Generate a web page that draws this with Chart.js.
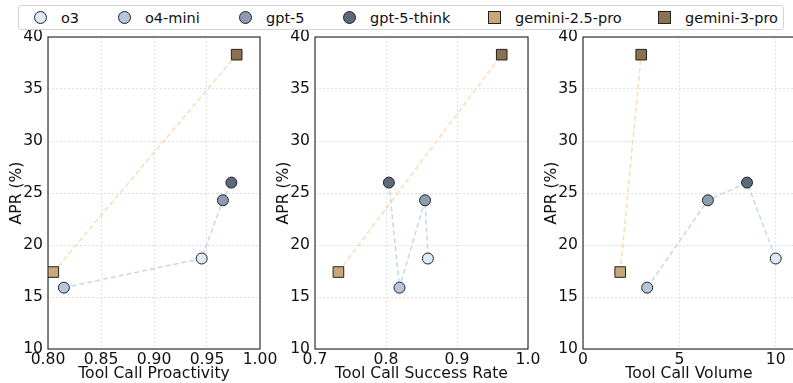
<!DOCTYPE html>
<html>
<head>
<meta charset="utf-8">
<script src="https://cdn.jsdelivr.net/npm/chart.js@4.4.0/dist/chart.umd.min.js"></script>
<style>
  body { margin: 0; width: 793px; height: 383px; overflow: hidden; background: #fff; position: relative; font-family: "DejaVu Sans", sans-serif; }
  canvas { position: absolute; top: 0; }
  #legend { position: absolute; left: 18px; top: 5px; width: 764px; height: 23px; border: 1px solid #d4d4d4; border-radius: 3px; background: #fff; z-index: 5; }
  .item { position: absolute; top: 0; height: 23px; display: flex; align-items: center; font-size: 14.5px; color: #111; }
  .mk { width: 11px; height: 11px; border: 1px solid #222; margin-right: 14px; box-sizing: content-box; }
  .mk.circle { border-radius: 50%; }
</style>
</head>
<body>
<div id="legend"></div>
<canvas id="c0" width="280" height="383" style="left:0px"></canvas>
<canvas id="c1" width="280" height="383" style="left:267px"></canvas>
<canvas id="c2" width="270" height="383" style="left:535px"></canvas>
<script>
// models and measured values
const models = ['o3', 'o4-mini', 'gpt-5', 'gpt-5-think', 'gemini-2.5-pro', 'gemini-3-pro'];
const apr = [18.7, 15.9, 24.3, 26.0, 17.4, 38.3];
const proactivity = [0.945, 0.815, 0.965, 0.973, 0.805, 0.978];
const successRate = [0.859, 0.819, 0.855, 0.804, 0.733, 0.963];
const callVolume = [10.0, 3.33, 6.48, 8.51, 1.93, 3.02];

const openaiGroup = [0, 1, 2, 3];
const geminiGroup = [4, 5];

const fillColors = ['#dbe9f8', '#b3c6dc', '#8d9db1', '#5c6979', '#c8a87b', '#8c7150'];
const markerShapes = ['circle', 'circle', 'circle', 'circle', 'rect', 'rect'];

// legend (html)
const legendX = [33, 117, 238, 342, 487, 657];
const legend = document.getElementById('legend');
models.forEach((m, i) => {
    const it = document.createElement('div');
    it.className = 'item';
    it.style.left = (legendX[i] - 18) + 'px';
    const mk = document.createElement('span');
    mk.className = 'mk ' + markerShapes[i];
    mk.style.background = fillColors[i];
    it.appendChild(mk);
    it.appendChild(document.createTextNode(m));
    legend.appendChild(it);
});

const framePlugin = {
    id: 'frame',
    beforeDatasetsDraw(chart) {
        const a = chart.chartArea;
        const ctx = chart.ctx;
        ctx.save();
        ctx.strokeStyle = '#333';
        ctx.lineWidth = 1.2;
        ctx.strokeRect(a.left, a.top, a.right - a.left, a.bottom - a.top);
        ctx.restore();
    }
};

const font = { family: 'DejaVu Sans', size: 15.6 };

function makePanel(id, xs, xOpts, title, rightPad) {
    const datasets = [];
    // connecting dashed lines
    [[openaiGroup, 'rgba(175,198,226,0.7)'], [geminiGroup, 'rgba(250,205,150,0.7)']].forEach(([grp, col]) => {
        const pts = grp.map(i => ({ x: xs[i], y: apr[i] })).sort((a, b) => a.x - b.x);
        datasets.push({
            data: pts, showLine: true, borderColor: col, borderWidth: 1.5,
            borderDash: [5, 3], pointRadius: 0, order: 10
        });
    });
    models.forEach((m, i) => {
        datasets.push({
            label: m,
            data: [{ x: xs[i], y: apr[i] }],
            pointStyle: markerShapes[i],
            pointRadius: markerShapes[i] === 'rect' ? 7.5 : 5.5,
            pointBackgroundColor: fillColors[i],
            pointBorderColor: '#222',
            pointBorderWidth: 1,
            order: 1
        });
    });

    new Chart(document.getElementById(id), {
        type: 'scatter',
        data: { datasets: datasets },
        options: {
            responsive: false,
            animation: false,
            layout: { padding: { top: 37, right: rightPad, left: 0, bottom: 0 } },
            plugins: { legend: { display: false }, tooltip: { enabled: false } },
            scales: {
                x: Object.assign({
                    type: 'linear',
                    grid: { color: '#d8d8d8', lineWidth: 0.8, drawTicks: false },
                    border: { display: false, dash: [2, 2] },
                    title: { display: true, text: title, color: '#111', font: font, padding: { top: 0, bottom: 0 } },
                    afterFit: s => { s.height = 34; }
                }, xOpts),
                y: {
                    min: 10, max: 40,
                    ticks: { stepSize: 5, color: '#111', font: font, padding: 5 },
                    grid: { color: '#d8d8d8', lineWidth: 0.8, drawTicks: false },
                    border: { display: false, dash: [2, 2] },
                    title: { display: true, text: 'APR (%)', color: '#111', font: font, padding: { top: 8, bottom: 0 } },
                    afterFit: s => { s.width = 48; }
                }
            }
        },
        plugins: [framePlugin]
    });
}

makePanel('c0', proactivity, {
    min: 0.8, max: 1.0,
    ticks: { stepSize: 0.05, color: '#111', font: font, padding: 2, callback: v => v.toFixed(2) }
}, 'Tool Call Proactivity', 20);

makePanel('c1', successRate, {
    min: 0.7, max: 1.0,
    ticks: { stepSize: 0.1, color: '#111', font: font, padding: 2, callback: v => v.toFixed(1) }
}, 'Tool Call Success Rate', 19);

makePanel('c2', callVolume, {
    min: 0, max: 11,
    ticks: { stepSize: 5, includeBounds: false, color: '#111', font: font, padding: 2 }
}, 'Tool Call Volume', 10);
</script>
</body>
</html>
